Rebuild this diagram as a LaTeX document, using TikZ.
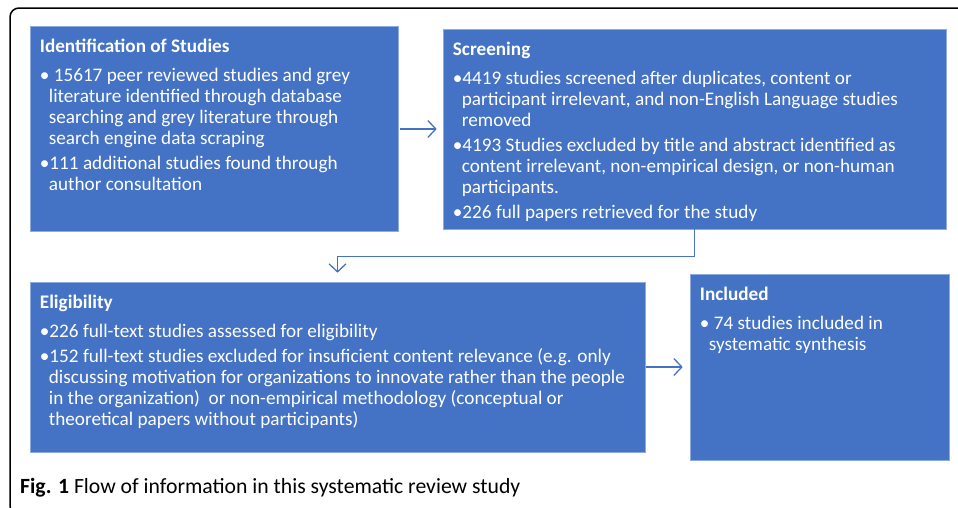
\documentclass[tikz,border=0pt]{standalone}
\usepackage{fontspec}
\setmainfont{Carlito}
\usepackage{tikz}
\def\ind{\hspace*{9pt}}
\usetikzlibrary{arrows.meta,positioning}
\definecolor{stageblue}{HTML}{4472C4}
\definecolor{stageedge}{HTML}{8FAADC}

\begin{document}
\begin{tikzpicture}[x=1pt,y=-1pt]
    \tikzstyle{stage}=[rectangle,fill=stageblue,draw=stageedge,line width=0.6pt,inner sep=0pt]
    \tikzstyle{stage text}=[anchor=north west,inner sep=0pt,text=white,align=left,font=\fontsize{19.2}{21}\selectfont]
    \tikzstyle{edge}=[draw=stageblue,line width=1.3pt,-{Straight Barb[length=8pt,width=17pt,line width=1.3pt]}]

    \clip (0,0) rectangle (958,507);
    % outer frame, runs off the page on the right and bottom
    \draw[black,line width=1.5pt,rounded corners=9pt] (10,8) rectangle (990,515);

    % stage boxes
    \node[stage,minimum width=368pt,minimum height=205pt] (ident) at (214,129) {};
    \node[stage,minimum width=503pt,minimum height=200pt] (screen) at (694.5,129) {};
    \node[stage,minimum width=615pt,minimum height=170pt] (elig) at (337.5,367) {};
    \node[stage,minimum width=259pt,minimum height=186pt] (incl) at (819.5,367) {};

    % stage texts
    \node[stage text] (identtext) at ([shift={(10,13)}]ident.north west) {\textbf{Identification of Studies}\\[8pt]
        \textbullet\ 15617 peer reviewed studies and grey\\
        \ind literature identified through database\\
        \ind searching and grey literature through\\
        \ind search engine data scraping\\[4pt]
        \textbullet111 additional studies found through\\
        \ind author consultation};
    \node[stage text] (screentext) at ([shift={(10,13)}]screen.north west) {\textbf{Screening}\\[8pt]
        \textbullet4419 studies screened after duplicates, content or\\
        \ind participant irrelevant, and non-English Language studies\\
        \ind removed\\[4pt]
        \textbullet4193 Studies excluded by title and abstract identified as\\
        \ind content irrelevant, non-empirical design, or non-human\\
        \ind participants.\\[4pt]
        \textbullet226 full papers retrieved for the study};
    \node[stage text] (eligtext) at ([shift={(10,13)}]elig.north west) {\textbf{Eligibility}\\[8pt]
        \textbullet226 full-text studies assessed for eligibility\\[4pt]
        \textbullet152 full-text studies excluded for insuficient content relevance (e.g. only\\
        \ind discussing motivation for organizations to innovate rather than the people\\
        \ind in the organization) \ or non-empirical methodology (conceptual or\\
        \ind theoretical papers without participants)};
    \node[stage text] (incltext) at ([shift={(10,13)}]incl.north west) {\textbf{Included}\\[8pt]
        \textbullet\ 74 studies included in\\
        \ind systematic synthesis};

    % flow
    \draw[edge,shorten <=2pt,shorten >=6pt] (ident) -- (screen);
    \draw[edge,shorten >=9pt] (screen.south) -- ++(0,27) -| (elig.north);
    \draw[edge,shorten <=1pt,shorten >=7pt] (elig) -- (incl);

    \node[anchor=west,inner sep=0pt,font=\fontsize{21.7}{24}\selectfont] (caption) at (20,488) {\textbf{Fig. 1} Flow of information in this systematic review study};
\end{tikzpicture}
\end{document}
